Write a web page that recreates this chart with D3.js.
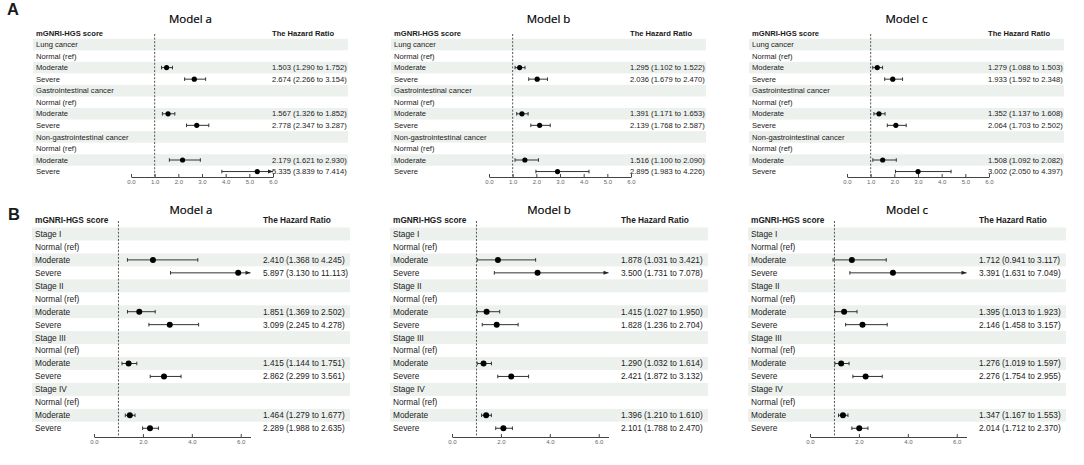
<!DOCTYPE html>
<html>
<head>
<meta charset="utf-8">
<script src="https://cdn.jsdelivr.net/npm/d3@7"></script>
<style>
body { margin: 0; background: #fff; }
text { font-family: "Liberation Sans", Arial, sans-serif; fill: #1a1a1a; }
</style>
</head>
<body>
<div id="chart"></div>
<script>
const models = ["Model a", "Model b", "Model c"];
const levels = ["Normal (ref)", "Moderate", "Severe"];
const groupsA = ["Lung cancer", "Gastrointestinal cancer", "Non-gastrointestinal cancer"];
const groupsB = ["Stage I", "Stage II", "Stage III", "Stage IV"];

// one array per model, order: moderate, severe for each group
const hrA = [[1.503, 2.674, 1.567, 2.778, 2.179, 5.335],
             [1.295, 2.036, 1.391, 2.139, 1.516, 2.895],
             [1.279, 1.933, 1.352, 2.064, 1.508, 3.002]];
const lowA = [[1.290, 2.266, 1.326, 2.347, 1.621, 3.839],
              [1.102, 1.679, 1.171, 1.768, 1.100, 1.983],
              [1.088, 1.592, 1.137, 1.703, 1.092, 2.050]];
const highA = [[1.752, 3.154, 1.852, 3.287, 2.930, 7.414],
               [1.522, 2.470, 1.653, 2.587, 2.090, 4.226],
               [1.503, 2.348, 1.608, 2.502, 2.082, 4.397]];

const hrB = [[2.410, 5.897, 1.851, 3.099, 1.415, 2.862, 1.464, 2.289],
             [1.878, 3.500, 1.415, 1.828, 1.290, 2.421, 1.396, 2.101],
             [1.712, 3.391, 1.395, 2.146, 1.276, 2.276, 1.347, 2.014]];
const lowB = [[1.368, 3.130, 1.369, 2.245, 1.144, 2.299, 1.279, 1.988],
              [1.031, 1.731, 1.027, 1.236, 1.032, 1.872, 1.210, 1.788],
              [0.941, 1.631, 1.013, 1.458, 1.019, 1.754, 1.167, 1.712]];
const highB = [[4.245, 11.113, 2.502, 4.278, 1.751, 3.561, 1.677, 2.635],
               [3.421, 7.078, 1.950, 2.704, 1.614, 3.132, 1.610, 2.470],
               [3.117, 7.049, 1.923, 3.157, 1.597, 2.955, 1.553, 2.370]];

const ticksA = [0, 1, 2, 3, 4, 5, 6];
const ticksB = [0, 2, 4, 6];

var svg = d3.select("#chart")
	.append("svg")
	.attr("width", 1084)
	.attr("height", 465);

var layoutA = {letter: "A", letterY: 15, titleY: 22.5, headY: 33, row0: 44.5, pitch: 11.55,
	axisY: 177, fs: 7.6, r: 2.6, band: [33, 348], labelX: 36, hrX: 272,
	xr: [131, 273], dom: [0, 6], ticks: ticksA};
var layoutB = {letter: "B", letterY: 220, titleY: 214, headY: 220, row0: 234, pitch: 12.95,
	axisY: 437, fs: 8.3, r: 3, band: [32, 350], labelX: 35, hrX: 263,
	xr: [94, 250.5], dom: [0, 6.4], ticks: ticksB};
var step = 358;

function drawPanel(L, ox, title, groups, hr, low, high) {
	var g = svg.append("g").attr("transform", "translate(" + ox + ",0)");
	var x = d3.scaleLinear().domain(L.dom).range(L.xr);

	var rows = [];
	groups.forEach(function(name, gi) {
		rows.push({label: name});
		rows.push({label: levels[0]});
		rows.push({label: levels[1], k: gi * 2});
		rows.push({label: levels[2], k: gi * 2 + 1});
	});

	var y = d3.scaleBand()
		.domain(d3.range(rows.length))
		.range([L.row0 - L.pitch / 2, L.row0 - L.pitch / 2 + rows.length * L.pitch]);
	var cy = function(i) { return y(i) + y.bandwidth() / 2; };

	// stripes
	g.selectAll("rect.band")
		.data(rows.map(function(d, i) { return i; }).filter(function(i) { return i % 2 === 0; }))
		.enter().append("rect")
		.attr("x", L.band[0])
		.attr("width", L.band[1] - L.band[0])
		.attr("y", function(i) { return y(i); })
		.attr("height", y.bandwidth())
		.attr("fill", "#edf1ee");

	g.append("text")
		.attr("x", (L.band[0] + L.band[1]) / 2)
		.attr("y", L.titleY)
		.attr("text-anchor", "middle")
		.style("font-family", "'Open Sans', sans-serif")
		.style("font-size", "11.5px")
		.style("fill", "#000")
		.style("stroke", "#000")
		.style("stroke-width", "0.2px")
		.text(title);

	g.append("text")
		.attr("x", L.labelX).attr("y", L.headY).attr("dy", "0.35em")
		.style("font-size", L.fs + "px").style("font-weight", "bold")
		.text("mGNRI-HGS score");
	g.append("text")
		.attr("x", L.hrX).attr("y", L.headY).attr("dy", "0.35em")
		.style("font-size", L.fs + "px").style("font-weight", "bold")
		.text("The Hazard Ratio");

	g.selectAll("text.lab")
		.data(rows)
		.enter().append("text")
		.attr("x", L.labelX)
		.attr("y", function(d, i) { return cy(i); })
		.attr("dy", "0.35em")
		.style("font-size", L.fs + "px")
		.text(function(d) { return d.label; });

	// reference line at HR = 1
	g.append("line")
		.attr("x1", x(1)).attr("x2", x(1))
		.attr("y1", L.headY + 1).attr("y2", L.axisY)
		.attr("stroke", "#555")
		.attr("stroke-width", 1)
		.attr("stroke-dasharray", "2,1.6");

	g.append("g")
		.attr("transform", "translate(0," + L.axisY + ")")
		.call(d3.axisBottom(x)
			.tickValues(L.ticks)
			.tickFormat(d3.format(".1f"))
			.tickSize(-3)
			.tickSizeOuter(0)
			.tickPadding(3))
		.call(function(a) {
			a.select(".domain").attr("stroke", "#444");
			a.selectAll(".tick line").attr("stroke", "#444");
			a.selectAll(".tick text")
				.style("font-size", "6px")
				.style("fill", "#666")
				.style("font-family", "'Liberation Sans', Arial, sans-serif");
		});

	var est = rows.map(function(d, i) { return {d: d, i: i}; })
		.filter(function(o) { return o.d.k !== undefined; });

	est.forEach(function(o) {
		var k = o.d.k;
		var yy = cy(o.i);
		var lo = Math.max(low[k], L.dom[0]);
		var hi = Math.min(high[k], L.dom[1]);
		var clipped = high[k] > L.dom[1];
		g.append("line")
			.attr("x1", x(lo)).attr("x2", x(hi))
			.attr("y1", yy).attr("y2", yy)
			.attr("stroke", "#333").attr("stroke-width", 1);
		g.append("line")
			.attr("x1", x(lo)).attr("x2", x(lo))
			.attr("y1", yy - 1.8).attr("y2", yy + 1.8)
			.attr("stroke", "#333").attr("stroke-width", 1);
		if (clipped) {
			var xe = x(hi);
			g.append("path")
				.attr("d", "M" + xe + "," + yy + "L" + (xe - 5) + "," + (yy - 2) + "L" + (xe - 5) + "," + (yy + 2) + "Z")
				.attr("fill", "#222");
		} else {
			g.append("line")
				.attr("x1", x(hi)).attr("x2", x(hi))
				.attr("y1", yy - 1.8).attr("y2", yy + 1.8)
				.attr("stroke", "#333").attr("stroke-width", 1);
		}
		g.append("circle")
			.attr("cx", x(hr[k]))
			.attr("cy", yy)
			.attr("r", L.r)
			.attr("fill", "#000");
		g.append("text")
			.attr("x", L.hrX)
			.attr("y", yy)
			.attr("dy", "0.35em")
			.style("font-size", L.fs + "px")
			.text(hr[k].toFixed(3) + " (" + low[k].toFixed(3) + " to " + high[k].toFixed(3) + ")");
	});
}

svg.append("text").attr("x", 7).attr("y", layoutA.letterY)
	.style("font-size", "16.5px").style("font-weight", "bold").text(layoutA.letter);
svg.append("text").attr("x", 8).attr("y", layoutB.letterY)
	.style("font-size", "16.5px").style("font-weight", "bold").text(layoutB.letter);

models.forEach(function(m, j) {
	drawPanel(layoutA, j * step, m, groupsA, hrA[j], lowA[j], highA[j]);
	drawPanel(layoutB, j * step, m, groupsB, hrB[j], lowB[j], highB[j]);
});
</script>
</body>
</html>
